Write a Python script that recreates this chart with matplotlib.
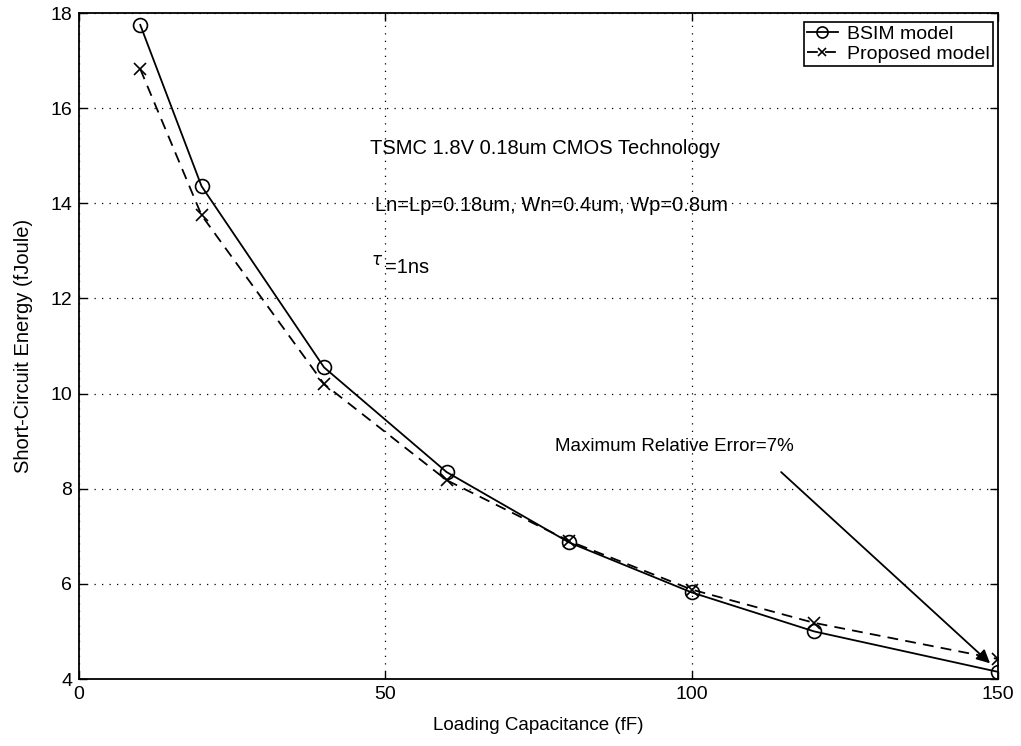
import numpy as np
import matplotlib.pyplot as plt

plt.rcParams['font.family'] = ['Liberation Sans', 'DejaVu Sans']

cap = [10, 20, 40, 60, 80, 100, 120, 150]
bsim = [17.75, 14.36, 10.55, 8.35, 6.87, 5.82, 5.00, 4.15]
proposed = [16.82, 13.75, 10.20, 8.18, 6.90, 5.88, 5.18, 4.42]

xticks = [0, 50, 100, 150]
yticks = [4, 6, 8, 10, 12, 14, 16, 18]

fig = plt.figure(figsize=(10.21, 7.46), dpi=100)
ax = fig.add_axes([79 / 1021, 1 - 679 / 746, 919 / 1021, 666 / 746])

ax.plot(cap, bsim, '-', color='black', lw=1.3, marker='o', ms=10,
        mfc='none', mew=1.2, label='BSIM model')
ax.plot(cap, proposed, '--', color='black', lw=1.3, marker='x', ms=8,
        mew=1.2, dashes=(6, 4), label='Proposed model')

ax.set_xlim(0, 150)
ax.set_ylim(4, 18)
ax.set_xticks(xticks)
ax.set_yticks(yticks)
ax.tick_params(direction='in', length=6, width=1, labelsize=14,
               top=True, right=True, pad=5)
ax.grid(True, linestyle=(0, (1, 5)), color='black', lw=0.9)
for s in ax.spines.values():
    s.set_linewidth(1.3)

ax.set_xlabel('Loading Capacitance (fF)', fontsize=13.5, labelpad=10)
ax.set_ylabel('Short-Circuit Energy (fJoule)', fontsize=14.5, labelpad=10)
ax.yaxis.set_label_coords(-0.05, 0.5)

ax.text(47.5, 15.15, 'TSMC 1.8V 0.18um CMOS Technology', fontsize=14.5, va='center')
ax.text(48.3, 13.95, 'Ln=Lp=0.18um, Wn=0.4um, Wp=0.8um', fontsize=14.5, va='center')
ax.text(47.6, 12.80, r'$\tau$', fontsize=12, va='center')
ax.text(49.9, 12.66, '=1ns', fontsize=14.5, va='center')
ax.text(77.7, 8.88, 'Maximum Relative Error=7%', fontsize=13.5, va='center')
ax.annotate('', xy=(148.7, 4.33), xytext=(114.6, 8.35),
            arrowprops=dict(arrowstyle='-|>', color='black', lw=1.3,
                            mutation_scale=20, shrinkA=0, shrinkB=0))

leg = ax.legend(loc='upper right', bbox_to_anchor=(0.9946, 0.9865),
                fontsize=14, frameon=True, fancybox=False,
                edgecolor='black', framealpha=1, handlelength=1.6,
                borderaxespad=0, labelspacing=0.15, borderpad=0.15,
                handletextpad=0.5, markerscale=0.8)
leg.get_frame().set_linewidth(1.2)

fig.savefig('out.png', dpi=100)
